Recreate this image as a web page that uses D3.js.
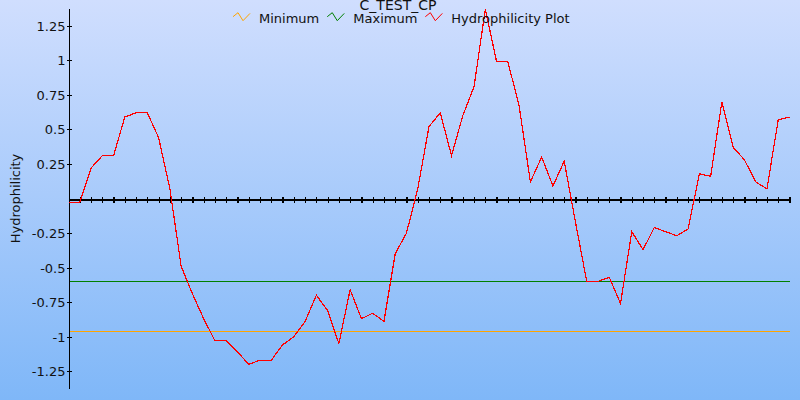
<!DOCTYPE html>
<html><head><meta charset="utf-8">
<script src="https://cdn.jsdelivr.net/npm/d3@7"></script>
<style>
body{margin:0;background:#fff;}
svg{display:block;font-family:"DejaVu Sans",Verdana,sans-serif;}
</style>
</head><body>
<svg id="chart" width="800" height="400"></svg>
<script>
const chartTitle = "C_TEST_CP";
const yAxisTitle = "Hydrophilicity";
const seriesNames = ["Minimum", "Maximum", "Hydrophilicity Plot"];
const seriesColors = ["#ffa500", "#008000", "#ff0000"];
const hydrophilicity = [-0.03, -0.03, 0.22, 0.31, 0.31, 0.59, 0.62, 0.62, 0.44, 0.07,
  -0.49, -0.69, -0.87, -1.03, -1.03, -1.11, -1.20, -1.17, -1.17, -1.06,
  -1.00, -0.89, -0.70, -0.81, -1.05, -0.66, -0.87, -0.83, -0.89, -0.40,
  -0.25, 0.07, 0.52, 0.62, 0.31, 0.60, 0.81, 1.37, 0.99, 0.99,
  0.67, 0.12, 0.30, 0.09, 0.27, -0.17, -0.60, -0.60, -0.57, -0.76,
  -0.24, -0.37, -0.21, -0.24, -0.27, -0.22, 0.18, 0.16, 0.70, 0.37,
  0.28, 0.12, 0.07, 0.57, 0.59];
const minimumLevel = [-0.96];
const maximumLevel = [-0.60];
const yTickValues = [-1.25, -1, -0.75, -0.5, -0.25, 0.25, 0.5, 0.75, 1, 1.25];
const yTickLabels = ["-1.25", "-1", "-0.75", "-0.5", "-0.25", "0.25", "0.5", "0.75", "1", "1.25"];
const yDomain = [-1.375, 1.375];

const W = 800, H = 400;
const svg = d3.select("#chart");

// background gradient
const defs = svg.append("defs");
const grad = defs.append("linearGradient").attr("id", "bg").attr("x1", 0).attr("y1", 0).attr("x2", 0).attr("y2", 1);
grad.append("stop").attr("offset", "0%").attr("stop-color", "#d0defe");
grad.append("stop").attr("offset", "100%").attr("stop-color", "#7fb7f8");
svg.append("rect").attr("width", W).attr("height", H).attr("fill", "url(#bg)");

const idx = hydrophilicity.map((d, i) => i);
const x = d3.scaleLinear().domain([0, hydrophilicity.length - 1]).range([68.5, 789.5]);
const y = d3.scaleLinear().domain(yDomain).range([388.5, 8.5]);

// Min / Max lines
const levels = [minimumLevel, maximumLevel];
levels.forEach((lv, k) => {
  svg.append("g").selectAll("line").data(lv).join("line")
    .attr("x1", x(0)).attr("x2", x(hydrophilicity.length - 1))
    .attr("y1", d => Math.round(y(d)) + 0.5).attr("y2", d => Math.round(y(d)) + 0.5)
    .attr("stroke", seriesColors[k]).attr("stroke-width", 1)
    .attr("shape-rendering", "crispEdges");
});

// Y axis
const yAxis = svg.append("g").attr("transform", `translate(${x(0)},0)`)
  .call(d3.axisLeft(y).tickValues(yTickValues).tickFormat((d, i) => yTickLabels[i])
    .tickSizeInner(0).tickSizeOuter(0).tickPadding(3));
yAxis.select(".domain").attr("stroke", "#000").attr("shape-rendering", "crispEdges");
yAxis.selectAll(".tick line").remove();
yAxis.selectAll(".tick").append("line").attr("x1", -2).attr("x2", 3)
  .attr("stroke", "#000").attr("shape-rendering", "crispEdges");
yAxis.selectAll(".tick text").attr("font-size", 13).attr("fill", "#111")
  .attr("font-family", "'DejaVu Sans',Verdana,sans-serif").attr("dy", "0.35em");

// X axis at zero
const xAxis = svg.append("g").attr("transform", `translate(0,${Math.round(y(0)) + 0.5})`)
  .call(d3.axisBottom(x).tickValues(idx.slice(1)).tickFormat("")
    .tickSizeInner(0).tickSizeOuter(0));
xAxis.select(".domain").attr("stroke", "#000").attr("stroke-width", 1.2).attr("shape-rendering", "crispEdges");
xAxis.selectAll(".tick line").remove();
xAxis.selectAll(".tick").append("line").attr("y1", -3).attr("y2", 3)
  .attr("stroke", "#000").attr("stroke-width", 1.2).attr("shape-rendering", "crispEdges");

// data line
const line = d3.line().x((d, i) => x(i)).y(d => y(d));
svg.append("path").datum(hydrophilicity).attr("d", line)
  .attr("fill", "none").attr("stroke", seriesColors[2]).attr("stroke-width", 1.2)
  .attr("shape-rendering", "crispEdges");

// Y axis title
svg.append("text").attr("transform", `translate(20,${(y.range()[0] + y.range()[1]) / 2}) rotate(-90)`)
  .attr("text-anchor", "middle").attr("font-size", 13).attr("fill", "#111").text(yAxisTitle);

// Title
svg.append("text").attr("x", 398).attr("y", 10).attr("text-anchor", "middle")
  .attr("font-size", 14).attr("fill", "#111").text(chartTitle);

// Legend
const leg = svg.append("g");
let cx = 0;
seriesNames.forEach((name, k) => {
  const g = leg.append("g").attr("transform", `translate(${cx},0)`);
  g.append("path").attr("d", "M0,4L5,0L10,8L17,0.7")
    .attr("fill", "none").attr("stroke", seriesColors[k]).attr("stroke-width", 1);
  const t = g.append("text").attr("x", 26).attr("y", 10).attr("font-size", 13).attr("fill", "#111").text(name);
  cx += 26 + t.node().getComputedTextLength() + 8;
});
const legW = cx - 8;
leg.attr("transform", `translate(${Math.round(401 - legW / 2)},12.7)`);
</script>
</body></html>
